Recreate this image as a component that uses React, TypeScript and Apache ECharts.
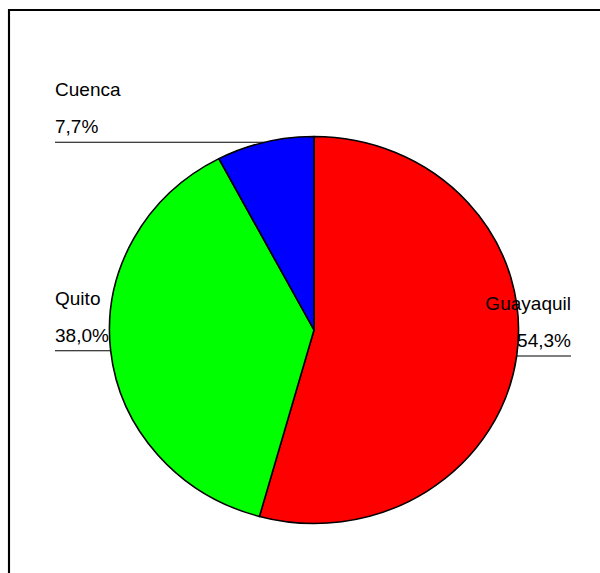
import React, { useEffect, useRef } from "react";
import * as echarts from "echarts";

const cities = ["Guayaquil", "Quito", "Cuenca"];
const shares = [54.3, 38.0, 7.7];
const sliceColors = ["#ff0000", "#00ff00", "#0000ff"];

// The reference picture is slightly stretched horizontally (the pie is an ellipse).
const STRETCH = 1.057;
const CHART_W = 600 / STRETCH;

export default function App() {
  const ref = useRef<HTMLDivElement>(null);

  useEffect(() => {
    if (!ref.current) return;
    const chart = echarts.init(ref.current, undefined, { renderer: "svg" });
    const font = "'Liberation Sans', Arial, sans-serif";
    const txt = { color: "#000", fontFamily: font, fontSize: 18, lineHeight: 37 };
    const sx = (x: number) => x / STRETCH;
    const edge = sx(55);
    chart.setOption({
      animation: false,
      backgroundColor: "#ffffff",
      graphic: [
        {
          type: "rect",
          shape: { x: sx(9), y: 10, width: 700, height: 700 },
          style: { fill: "none", stroke: "#000", lineWidth: 2 },
          silent: true,
        },
      ],
      series: [
        {
          type: "pie",
          left: 0,
          top: 0,
          width: sx(571) + edge,
          height: 573,
          center: [sx(314), 330],
          radius: 193.5,
          startAngle: 90,
          clockwise: true,
          avoidLabelOverlap: false,
          itemStyle: { borderColor: "#000", borderWidth: 1.5 },
          emphasis: { disabled: true },
          label: {
            show: true,
            position: "outside",
            alignTo: "edge",
            edgeDistance: edge,
            distanceToLabelLine: 0,
            width: 105,
            overflow: "none",
            color: "#000",
            fontFamily: font,
            fontSize: 18,
            formatter: (p: any) =>
              "{n|" + p.name + "}\n{v|" +
              Number(p.value).toFixed(1).replace(".", ",") + "%}\n{s| }",
            rich: {
              n: txt,
              v: txt,
              s: { ...txt, lineHeight: 67 },
            },
          },
          labelLine: {
            show: true,
            length: 0,
            length2: 10,
            smooth: false,
            lineStyle: { color: "#000", width: 1 },
          },
          labelLayout: (p: any) => {
            const pts = p.labelLinePoints;
            if (!pts || !pts.length) return {};
            const x1 = pts[0][0];
            const y1 = pts[0][1];
            const r = p.labelRect;
            const isLeft = r.x + r.width / 2 < x1;
            const xEnd = isLeft ? r.x : r.x + r.width;
            return { labelLinePoints: [[x1, y1], [x1, y1], [xEnd, y1]] };
          },
          data: cities.map((name, i) => ({
            name,
            value: shares[i],
            itemStyle: { color: sliceColors[i] },
          })),
        },
      ],
    });
    return () => chart.dispose();
  }, []);

  return (
    <div
      ref={ref}
      style={{
        position: "absolute",
        left: 0,
        top: 0,
        width: CHART_W,
        height: 573,
        transform: `scaleX(${STRETCH})`,
        transformOrigin: "0 0",
      }}
    />
  );
}
